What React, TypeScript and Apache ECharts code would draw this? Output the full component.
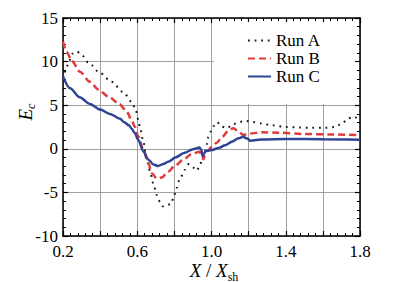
import React, { useEffect, useRef } from 'react';
import * as echarts from 'echarts';

const FONT = 'Liberation Serif';

const seriesNames = ['Run A', 'Run B', 'Run C'];

const runA: [number, number][] = [
  [0.2, 8.0], [0.215, 9.0], [0.23, 9.9], [0.25, 10.9], [0.275, 11.15], [0.3, 10.8],
  [0.336, 9.9], [0.4, 8.7], [0.46, 7.7], [0.525, 6.5], [0.57, 5.4], [0.593, 4.4],
  [0.606, 3.3], [0.615, 2.4], [0.633, 0.8], [0.651, -1.3], [0.669, -2.6], [0.687, -4.0],
  [0.705, -5.3], [0.723, -6.1], [0.738, -6.6], [0.76, -6.4], [0.78, -6.4], [0.794, -5.7],
  [0.812, -4.5], [0.83, -3.4], [0.857, -2.4], [0.878, -1.75], [0.9, -2.15], [0.92, -2.5],
  [0.938, -1.9], [0.95, -1.1], [0.965, -0.35], [0.974, 0.5], [0.983, 1.35], [0.997, 2.0],
  [1.01, 2.6], [1.03, 3.05], [1.055, 2.55], [1.082, 2.35], [1.118, 2.85], [1.154, 3.1],
  [1.18, 3.2], [1.217, 3.1], [1.27, 2.9], [1.324, 2.7], [1.4, 2.5], [1.47, 2.45],
  [1.54, 2.4], [1.61, 2.4], [1.665, 2.5], [1.7, 2.85], [1.737, 3.5], [1.764, 3.7], [1.8, 3.3],
];

const runB: [number, number][] = [
  [0.2, 12.3], [0.22, 11.1], [0.247, 10.1], [0.29, 8.85], [0.345, 7.7], [0.39, 6.8],
  [0.444, 6.0], [0.5, 5.2], [0.54, 4.4], [0.57, 3.3], [0.585, 2.6], [0.606, 1.4],
  [0.633, -0.15], [0.66, -1.65], [0.678, -2.8], [0.705, -3.4], [0.732, -3.3], [0.767, -2.6],
  [0.805, -1.9], [0.848, -1.25], [0.893, -0.6], [0.935, -0.35], [0.948, -0.7], [0.956, -1.2],
  [0.965, -0.7], [0.978, -0.3], [1.0, 0.2], [1.028, 0.7], [1.055, 1.3], [1.09, 2.05],
  [1.118, 2.35], [1.145, 2.0], [1.17, 1.6], [1.208, 1.75], [1.27, 1.9], [1.36, 1.85],
  [1.5, 1.7], [1.65, 1.65], [1.8, 1.55],
];

const runC: [number, number][] = [
  [0.2, 8.3], [0.238, 6.95], [0.29, 5.9], [0.345, 5.15], [0.4, 4.5], [0.453, 4.0],
  [0.507, 3.45], [0.53, 3.05], [0.555, 2.7], [0.57, 2.3], [0.585, 1.85], [0.606, 1.0],
  [0.633, -0.3], [0.66, -1.25], [0.687, -1.8], [0.713, -1.97], [0.74, -1.75], [0.77, -1.45],
  [0.805, -1.0], [0.855, -0.45], [0.9, -0.05], [0.935, 0.15], [0.945, -0.1], [0.952, -0.85],
  [0.96, -0.55], [0.97, -0.25], [1.0, -0.15], [1.04, 0.1], [1.073, 0.4], [1.11, 0.8],
  [1.145, 1.2], [1.17, 1.37], [1.19, 1.2], [1.21, 0.93], [1.27, 1.08], [1.4, 1.12],
  [1.6, 1.1], [1.8, 1.05],
];

const xLabelValues = [0.2, 0.6, 1.0, 1.4, 1.8];
const yTickValues = [-10, -5, 0, 5, 10, 15];

export default function App() {
  const ref = useRef<HTMLDivElement>(null);
  useEffect(() => {
    const chart = echarts.init(ref.current!, null, { renderer: 'svg' });
    const axisLine = { show: true, onZero: false, lineStyle: { color: '#000', width: 1.5 } };
    const axisTick = { show: true, inside: true, length: 5, lineStyle: { color: '#000', width: 1.2 } };
    const minorTick = { show: true, splitNumber: 5, length: 3, lineStyle: { color: '#000', width: 1 } };
    const splitLine = { show: true, lineStyle: { color: '#a0a0a0', width: 1 } };
    const labelStyle = { color: '#000', fontSize: 17, fontFamily: FONT };
    const xBase = { type: 'value', min: 0.2, max: 1.8, interval: 0.2 };
    const yBase = { type: 'value', min: -10, max: 15, interval: 5 };
    const colors = ['#1a1a1a', '#e03a3a', '#2e4494'];
    const lineStyles = [
      { color: colors[0], width: 2, type: [1.8, 4.8] },
      { color: colors[1], width: 2.5, type: [7, 4] },
      { color: colors[2], width: 2.5, type: 'solid' },
    ];
    const datas = [runA, runB, runC];
    const italic = { fontSize: 19, fontStyle: 'italic', fontFamily: FONT, color: '#000' };
    chart.setOption({
      animation: false,
      backgroundColor: '#fff',
      textStyle: { fontFamily: FONT },
      grid: { left: 63, right: 47, top: 18, bottom: 46, containLabel: false },
      legend: {
        left: 242,
        top: 27,
        orient: 'vertical',
        itemWidth: 23,
        itemHeight: 4,
        itemGap: 1,
        data: seriesNames,
        itemStyle: { opacity: 0 },
        textStyle: { color: '#000', fontSize: 17, fontFamily: FONT, lineHeight: 17 },
      },
      xAxis: [
        {
          ...xBase,
          position: 'bottom',
          axisLine,
          axisTick,
          minorTick,
          splitLine,
          axisLabel: {
            ...labelStyle,
            margin: 7,
            formatter: (v: number) =>
              xLabelValues.some((l) => Math.abs(l - v) < 1e-6) ? v.toFixed(1) : '',
          },
        },
        {
          ...xBase,
          position: 'top',
          axisLine,
          axisTick,
          minorTick,
          splitLine: { show: false },
          axisLabel: { show: false },
        },
      ],
      yAxis: [
        {
          ...yBase,
          position: 'left',
          axisLine,
          axisTick,
          minorTick,
          splitLine,
          axisLabel: {
            ...labelStyle,
            margin: 5,
            formatter: (v: number) => (yTickValues.includes(Math.round(v)) ? String(Math.round(v)) : ''),
          },
        },
        {
          ...yBase,
          position: 'right',
          axisLine,
          axisTick,
          minorTick,
          splitLine: { show: false },
          axisLabel: { show: false },
        },
      ],
      series: seriesNames.map((name, i) => ({
        name,
        type: 'line',
        xAxisIndex: 0,
        yAxisIndex: 0,
        data: datas[i],
        symbol: 'none',
        smooth: 0.3,
        smoothMonotone: 'x',
        color: colors[i],
        lineStyle: lineStyles[i],
        z: 3 + i,
      })),
      graphic: [
        {
          type: 'rect',
          z: 1,
          shape: { x: 214, y: 22, width: 141, height: 82 },
          style: { fill: '#fff' },
          silent: true,
        },
        {
          type: 'text',
          x: 25,
          y: 112,
          rotation: Math.PI / 2,
          style: {
            text: '{e|E}{c|c}',
            align: 'center',
            verticalAlign: 'middle',
            rich: {
              e: italic,
              c: { fontSize: 12, fontStyle: 'italic', fontFamily: FONT, color: '#000', padding: [12, 0, 0, 0] },
            },
          },
        },
        {
          type: 'text',
          x: 214,
          y: 270,
          style: {
            text: '{i|X}{n| / }{i|X}{s|sh}',
            align: 'center',
            verticalAlign: 'middle',
            rich: {
              i: italic,
              n: { fontSize: 19, fontFamily: FONT, color: '#000' },
              s: { fontSize: 12, fontFamily: FONT, color: '#000', padding: [13, 0, 0, 0] },
            },
          },
        },
      ],
    });
    return () => chart.dispose();
  }, []);
  return <div ref={ref} style={{ position: 'fixed', left: 0, top: 0, width: 407, height: 282 }} />;
}
